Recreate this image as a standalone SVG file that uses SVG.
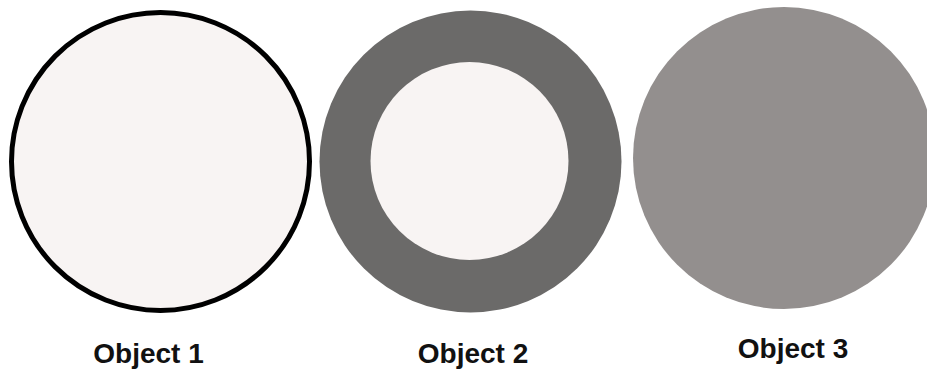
<svg xmlns="http://www.w3.org/2000/svg" width="927" height="370" viewBox="0 0 927 370">
<style>
.lbl{font-family:"Liberation Sans",Arial,sans-serif;font-weight:bold;font-size:28px;fill:#111;text-anchor:middle}
.light{fill:#f8f4f3}
</style>
<rect width="927" height="370" fill="#ffffff"/>
<g id="object1">
<circle cx="160.5" cy="161.5" r="149" class="light" stroke="#000" stroke-width="5"/>
<text class="lbl" x="148.5" y="363">Object 1</text>
</g>
<g id="object2">
<circle cx="470.5" cy="161.5" r="151" fill="#6b6a69"/>
<circle cx="469.5" cy="161" r="99" class="light"/>
<text class="lbl" x="473" y="363">Object 2</text>
</g>
<g id="object3">
<circle cx="784" cy="158" r="151" fill="#938f8e"/>
<text class="lbl" x="793" y="358">Object 3</text>
</g>
<g id="connectors"></g>
</svg>
